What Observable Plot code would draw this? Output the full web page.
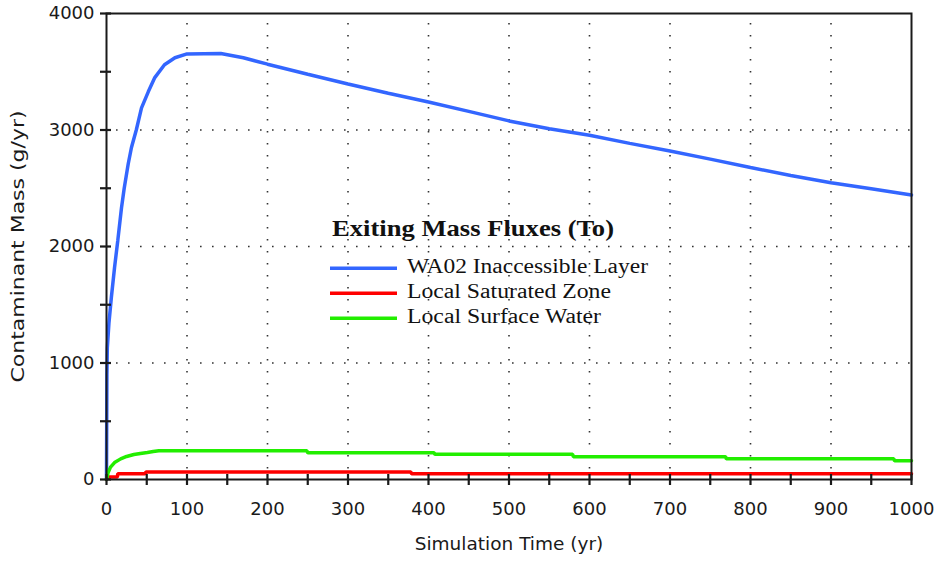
<!DOCTYPE html>
<html>
<head>
<meta charset="utf-8">
<script src="https://cdn.jsdelivr.net/npm/d3@7"></script>
<script src="https://cdn.jsdelivr.net/npm/@observablehq/plot@0.6"></script>
<style>
  body { margin: 0; background: #fff; }
  #wrap { position: relative; width: 938px; height: 567px; }
</style>
</head>
<body>
<div id="wrap"></div>
<script>
// ---- Data ----
const seriesNames = ["WA02 Inaccessible Layer", "Local Saturated Zone", "Local Surface Water"];
const seriesColors = ["#3366ff", "#ff0000", "#22ee00"];

const wa02Time = [0, 0.5, 1, 3, 6, 10, 14, 18.6, 22, 27, 31, 37, 43.5, 52, 60, 72, 85, 100, 142, 170, 200, 250, 300, 350, 400, 450, 500, 550, 600, 650, 700, 750, 800, 850, 900, 950, 1000];
const wa02Mass = [0, 900, 1130, 1340, 1560, 1820, 2050, 2330, 2500, 2710, 2850, 3000, 3190, 3330, 3450, 3560, 3620, 3653, 3656, 3620, 3565, 3478, 3395, 3315, 3240, 3160, 3078, 3010, 2955, 2885, 2820, 2750, 2678, 2610, 2548, 2495, 2442];

const satTime = [0, 1, 13.5, 14, 48, 49, 378, 379, 1000];
const satMass = [0, 22, 22, 50, 50, 64, 64, 50, 50];

const surfTime = [0, 2, 5, 10, 17.6, 25, 34, 42, 50.8, 58, 65, 249, 250, 407, 408, 579, 580, 769, 770, 978, 979, 1000];
const surfMass = [0, 60, 106, 145, 177, 198, 214, 224, 232, 240, 246, 246, 229, 229, 216, 216, 196, 196, 178, 178, 160, 160];

const xTickLabels = [0, 100, 200, 300, 400, 500, 600, 700, 800, 900, 1000];
const yTickLabels = [0, 1000, 2000, 3000, 4000];
const xMinorTicks = d3.range(0, 1001, 50);
const yMinorTicks = d3.range(0, 4001, 500);
const xGridLines = [100, 200, 300, 400, 500, 600, 700, 800, 900];
const yGridLines = [1000, 2000, 3000];

const xTitle = "Simulation Time (yr)";
const yTitle = "Contaminant Mass (g/yr)";
const legendTitle = "Exiting Mass Fluxes (To)";

// ---- Build table ----
const seriesTimes = [wa02Time, satTime, surfTime];
const seriesMasses = [wa02Mass, satMass, surfMass];
const rows = seriesNames.flatMap((name, i) =>
  seriesTimes[i].map((t, j) => ({series: name, time: t, mass: seriesMasses[i][j]}))
);

const sans = "'DejaVu Sans', Verdana, sans-serif";
const ink = "#1a1a1a";
const plain = d => String(d);

const chart = Plot.plot({
  width: 938,
  height: 567,
  marginLeft: 106,
  marginRight: 27,
  marginTop: 13,
  marginBottom: 88,
  style: {fontFamily: sans, fontSize: "18px", color: ink, background: "#fff"},
  x: {domain: [0, 1000]},
  y: {domain: [0, 4000]},
  color: {domain: seriesNames, range: seriesColors},
  marks: [
    Plot.gridX(xGridLines, {stroke: "#333", strokeOpacity: 1, strokeWidth: 1.6, strokeDasharray: "1.6,10.4", strokeDashoffset: -10}),
    Plot.gridY(yGridLines, {stroke: "#333", strokeOpacity: 1, strokeWidth: 1.6, strokeDasharray: "1.6,10.4", strokeDashoffset: -10}),
    Plot.line(rows, {x: "time", y: "mass", z: "series", stroke: "series", strokeWidth: 3.5, strokeLinejoin: "miter"}),
    Plot.frame({stroke: ink, strokeWidth: 2}),
    // tick marks crossing the axis lines
    Plot.ruleX(xMinorTicks, {x: d => d, insetTop: 461, insetBottom: -6, stroke: ink, strokeWidth: 2.2}),
    Plot.ruleY(yMinorTicks, {y: d => d, insetLeft: -6, insetRight: 800, stroke: ink, strokeWidth: 2.2}),
    Plot.axisX(xTickLabels, {tickSize: 0, tickPadding: 23, label: null, fontSize: 18, fill: ink, tickFormat: plain}),
    Plot.axisY(yTickLabels, {tickSize: 0, tickPadding: 12, label: null, fontSize: 18, fill: ink, tickFormat: plain}),
    Plot.text([xTitle], {frameAnchor: "bottom", dy: 70, text: d => d, fontSize: 18.5, fill: ink, textAnchor: "middle"}),
    Plot.text([yTitle], {frameAnchor: "left", dx: -88, rotate: -90, text: d => d, fontSize: 17, fill: ink, textAnchor: "middle"})
  ]
});

document.getElementById("wrap").appendChild(chart);

const svg = d3.select(chart);
// stretch the y title to the reference length
svg.selectAll("text").filter(function() { return this.textContent === yTitle; })
  .attr("textLength", 272).attr("lengthAdjust", "spacingAndGlyphs");

// ---- In-plot legend ----
const lg = svg.append("g")
  .attr("font-family", "'Liberation Serif', 'Times New Roman', serif")
  .attr("fill", "#111")
  .attr("text-anchor", "start");
lg.append("text")
  .attr("x", 332).attr("y", 236)
  .attr("font-weight", "bold").attr("font-size", 22.5)
  .attr("textLength", 282).attr("lengthAdjust", "spacingAndGlyphs")
  .text(legendTitle);
const entryWidths = [241, 204, 194];
seriesNames.forEach((name, i) => {
  const yLine = 268.3 + i * 25;
  lg.append("line")
    .attr("x1", 330).attr("x2", 397).attr("y1", yLine).attr("y2", yLine)
    .attr("stroke", seriesColors[i]).attr("stroke-width", 3.5);
  lg.append("text")
    .attr("x", 407).attr("y", yLine + 4.5)
    .attr("font-size", 20)
    .attr("textLength", entryWidths[i]).attr("lengthAdjust", "spacingAndGlyphs")
    .text(name);
});
</script>
</body>
</html>
